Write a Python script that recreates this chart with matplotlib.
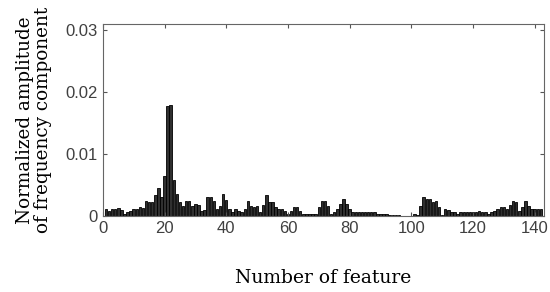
import matplotlib
matplotlib.use("Agg")
import matplotlib.pyplot as plt
import numpy as np

features = list(range(1, 143))
amplitude = [
    0.0012, 0.0009, 0.0011, 0.0012, 0.0013, 0.0010, 0.0004, 0.0007, 0.0009, 0.0011,
    0.0011, 0.0015, 0.0013, 0.0024, 0.0022, 0.0022, 0.0034, 0.0046, 0.0031, 0.0065,
    0.0177, 0.0179, 0.0058, 0.0036, 0.0023, 0.0017, 0.0024, 0.0025, 0.0017, 0.0019,
    0.0018, 0.0008, 0.0010, 0.0030, 0.0031, 0.0024, 0.0011, 0.0017, 0.0036, 0.0026,
    0.0012, 0.0006, 0.0012, 0.0009, 0.0007, 0.0012, 0.0025, 0.0017, 0.0015, 0.0017,
    0.0006, 0.0018, 0.0034, 0.0023, 0.0023, 0.0015, 0.0011, 0.0011, 0.0009, 0.0004,
    0.0009, 0.0015, 0.0015, 0.0009, 0.0004, 0.0004, 0.0004, 0.0004, 0.0004, 0.0015,
    0.0025, 0.0025, 0.0017, 0.0004, 0.0007, 0.0012, 0.0020, 0.0027, 0.0020, 0.0011,
    0.0007, 0.0007, 0.0007, 0.0007, 0.0007, 0.0007, 0.0007, 0.0007, 0.0004, 0.0004,
    0.0004, 0.0004, 0.0002, 0.0002, 0.0002, 0.0002, 0.00005, 0.00005, 0.00005, 0.00005,
    0.0004, 0.0002, 0.0017, 0.0031, 0.0027, 0.0027, 0.0022, 0.0025, 0.0015, 0.0002,
    0.0011, 0.0010, 0.0007, 0.0007, 0.0004, 0.0007, 0.0007, 0.0007, 0.0007, 0.0007,
    0.0007, 0.0009, 0.0007, 0.0006, 0.0004, 0.0006, 0.0009, 0.0012, 0.0014, 0.0015,
    0.0011, 0.0018, 0.0024, 0.0022, 0.0009, 0.0015, 0.0024, 0.0017, 0.0011, 0.0011,
    0.0011, 0.0011,
]
xticks = [0, 20, 40, 60, 80, 100, 120, 140]
yticks = [0, 0.01, 0.02, 0.03]
ytick_labels = ["0", "0.01", "0.02", "0.03"]

fig = plt.figure(figsize=(5.5, 2.92), dpi=100)
ax = fig.add_axes([0.187, 0.26, 0.802, 0.658])
ax.bar(features, amplitude, width=0.8, color="#303030", edgecolor="black", linewidth=0.6)
ax.set_xlim(0, 143)
ax.set_ylim(0, 0.031)
ax.set_xticks(xticks)
ax.set_yticks(yticks)
ax.set_yticklabels(ytick_labels)
ax.tick_params(direction="in", top=True, right=True, length=3, width=0.8,
               colors="#555555", labelcolor="#404040", labelsize=12)
for lbl in ax.get_xticklabels() + ax.get_yticklabels():
    lbl.set_family("Liberation Sans")
for s in ax.spines.values():
    s.set_color("#666666")
    s.set_linewidth(0.8)
ax.set_xlabel("Number of feature", family="DejaVu Serif", fontsize=13.5, labelpad=24)
ax.set_ylabel("Normalized amplitude\nof frequency component", family="DejaVu Serif",
              fontsize=13.2, labelpad=10, linespacing=1.0)
fig.savefig("out.png", dpi=100)
